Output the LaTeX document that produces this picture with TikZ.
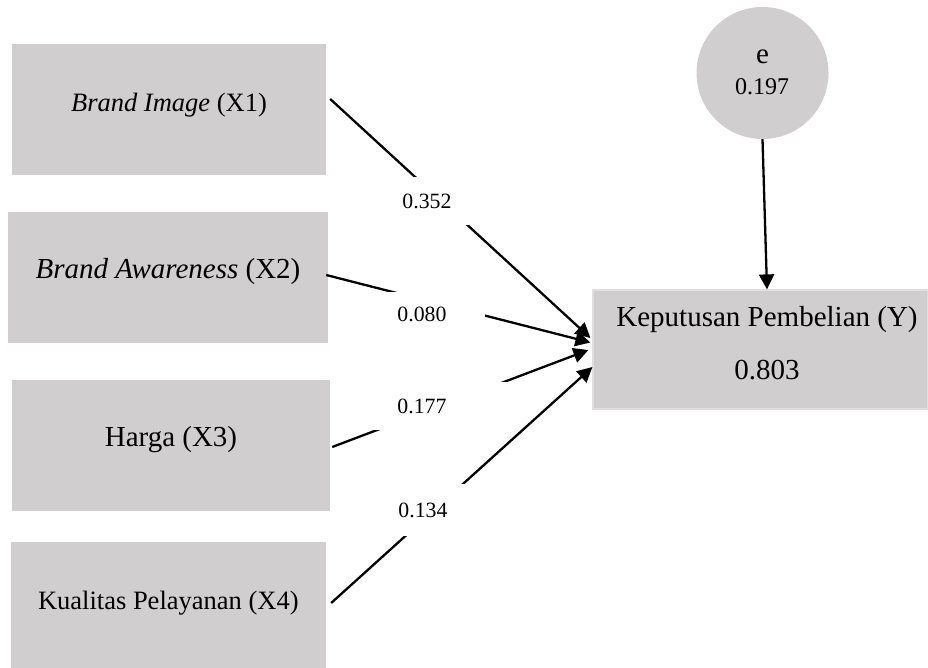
\documentclass[tikz,border=0pt]{standalone}
\usepackage{fontspec}
\setmainfont{Liberation Serif}
\usetikzlibrary{arrows.meta}
\definecolor{boxgray}{RGB}{208,206,207}
\definecolor{edgegray}{RGB}{224,223,223}
\begin{document}
\begin{tikzpicture}[x=1pt,y=-1pt,
  varbox/.style={fill=boxgray, inner sep=0pt, anchor=center},
  vartext/.style={inner sep=0pt, anchor=center},
  conn/.style={line width=2.3pt, -{Triangle[length=15pt,width=15pt]}},
  coef/.style={fill=white, inner sep=0pt, font=\fontsize{21.8}{24}\selectfont},
  bigtxt/.style={font=\fontsize{29}{34}\selectfont},
  smalltxt/.style={font=\fontsize{26.5}{31}\selectfont},
  midtxt/.style={font=\fontsize{24}{28}\selectfont}]
\useasboundingbox (0,0) rectangle (928,668);

% boxes
\node[varbox, minimum width=314pt, minimum height=131pt] (X1) at (169,109.5) {};
\node[varbox, minimum width=320pt, minimum height=131pt] (X2) at (168,277.5) {};
\node[varbox, minimum width=318pt, minimum height=131pt] (X3) at (171,445.5) {};
\node[varbox, minimum width=315pt, minimum height=126pt] (X4) at (168.5,605) {};
\node[varbox, draw=edgegray, line width=1.2pt, minimum width=335pt, minimum height=119pt] (Y) at (760.5,349.5) {};
\node[varbox, circle, minimum size=132pt] (E) at (762.5,73) {};

% connectors
\draw[conn] ([shift={(4,-10.5)}]X1.east) -- ([shift={(-2,-11.5)}]Y.west);
\draw[conn] ([shift={(-2,-2.5)}]X2.east) -- ([shift={(-2,-7)}]Y.west);
\draw[conn] ([shift={(2,1.5)}]X3.east) -- ([shift={(-4,0.5)}]Y.west);
\draw[conn] ([shift={(5,-2)}]X4.east) -- ([shift={(0,17.5)}]Y.west);
\draw[conn] (E.south) -- ([shift={(6.5,0)}]Y.north);

% coefficient labels
\node[coef, minimum width=84pt, minimum height=48pt] (c1) at (427,201) {0.352};
\node[coef, minimum width=126pt, minimum height=44pt] (c2) at (422,314) {0.080};
\node[coef, minimum width=170pt, minimum height=48pt] (c3) at (422,406) {0.177};
\node[coef, minimum width=84pt, minimum height=52pt] (c4) at (423,510) {0.134};

% texts
\node[vartext, smalltxt] (t1) at (169,105) {\textit{Brand Image} (X1)};
\node[vartext, bigtxt] (t2) at (168,272) {\textit{Brand Awareness} (X2)};
\node[vartext, bigtxt] (t3) at (171,440) {Harga (X3)};
\node[vartext, smalltxt] (t4) at (168.3,603) {Kualitas Pelayanan (X4)};
\node[vartext, bigtxt] (ty1) at (767,320) {Keputusan Pembelian (Y)};
\node[vartext, bigtxt] (ty2) at (767,370) {0.803};
\node[vartext, bigtxt] (te1) at (762.5,57) {e};
\node[vartext, midtxt] (te2) at (762,87) {0.197};
\end{tikzpicture}
\end{document}
